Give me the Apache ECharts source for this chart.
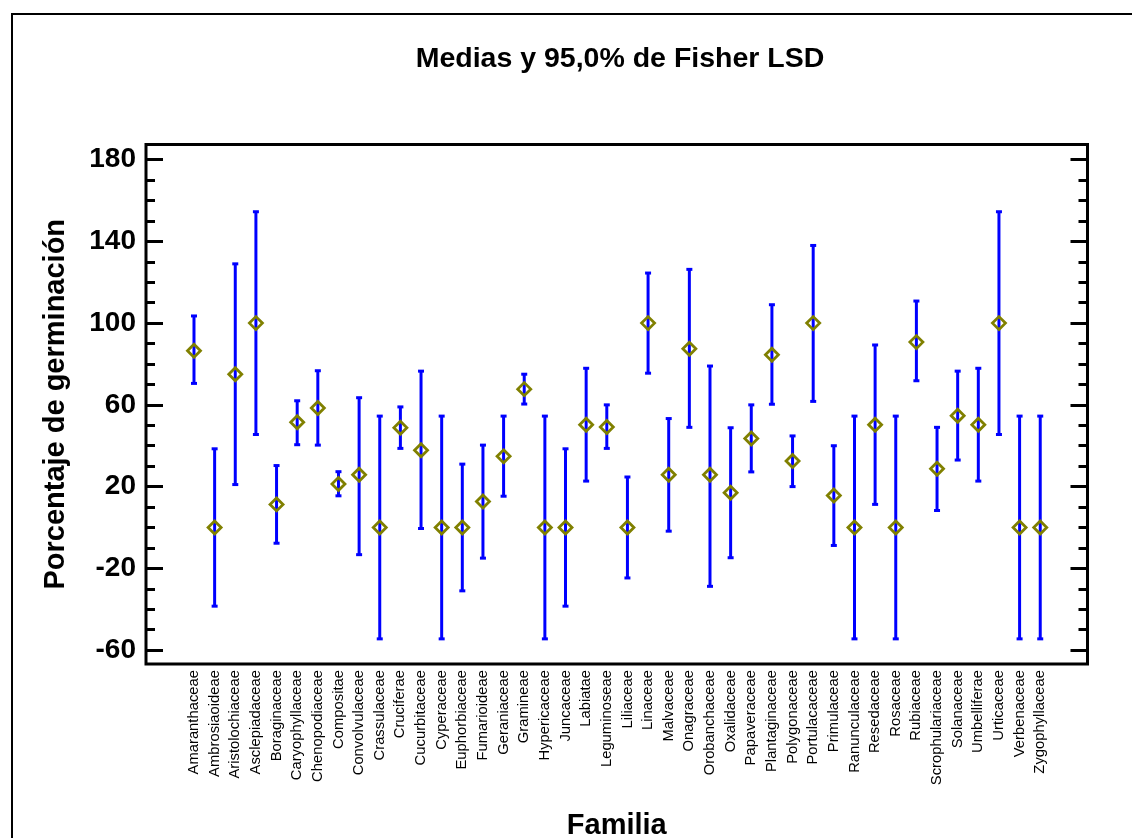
<!DOCTYPE html>
<html>
<head>
<meta charset="utf-8">
<script src="https://cdn.jsdelivr.net/npm/echarts@6/dist/echarts.min.js"></script>
<style>html,body{margin:0;padding:0;background:#fff}#c{width:1132px;height:838px}</style>
</head>
<body>
<div id="c"></div>
<script>
const categories = ['Amaranthaceae','Ambrosiaoideae','Aristolochiaceae','Asclepiadaceae','Boraginaceae','Caryophyllaceae','Chenopodiaceae','Compositae','Convolvulaceae','Crassulaceae','Cruciferae','Cucurbitaceae','Cyperaceae','Euphorbiaceae','Fumarioideae','Geraniaceae','Gramineae','Hypericaceae','Juncaceae','Labiatae','Leguminoseae','Liliaceae','Linaceae','Malvaceae','Onagraceae','Orobanchaceae','Oxalidaceae','Papaveraceae','Plantaginaceae','Polygonaceae','Portulacaceae','Primulaceae','Ranunculaceae','Resedaceae','Rosaceae','Rubiaceae','Scrophulariaceae','Solanaceae','Umbelliferae','Urticaceae','Verbenaceae','Zygophyllaceae'];
const means = [86.5,0,75,100,11.3,51.5,58.5,21.3,25.8,0,48.8,37.8,0,0,12.7,34.8,67.7,0,0,50.3,49.2,0,100,25.8,87.5,25.8,17,43.5,84.5,32.5,100,15.6,0,50.3,0,90.7,28.7,54.7,50.3,100,0,0];
const lower = [70.5,-38.5,21,45.5,-7.7,40.5,40.3,15.5,-13.3,-54.5,38.7,-0.5,-54.5,-31,-15,15.3,60.4,-54.5,-38.5,22.7,38.7,-24.7,75.5,-1.8,49,-28.8,-14.8,27.2,60.3,20,61.7,-8.8,-54.5,11.3,-54.5,71.8,8.3,33,22.7,45.5,-54.5,-54.5];
const upper = [103.5,38.5,129,154.5,30.3,62,76.7,27.3,63.5,54.5,59,76.5,54.5,31,40.3,54.5,75,54.5,38.5,77.9,60,24.7,124.5,53.3,126.3,79,48.8,60,109,44.8,138,40,54.5,89.3,54.5,110.8,49,76.5,77.9,154.5,54.5,54.5];
const majorTicks = [-60,-20,20,60,100,140,180];
const minorTicks = [-60,-50,-40,-30,-20,-10,0,10,20,30,40,50,60,70,80,90,100,110,120,130,140,150,160,170,180].filter(v => majorTicks.indexOf(v) < 0);

const chart = echarts.init(document.getElementById('c'), null, {renderer: 'canvas'});
const FONT = 'Liberation Sans';
const Y_MIN = -66.8, Y_MAX = 187.4;
function yAx(pos, ticks, len, labels) {
  return {
    type: 'value', position: pos, min: Y_MIN, max: Y_MAX, gridIndex: 0,
    axisLine: {show: false, onZero: false}, splitLine: {show: false},
    axisTick: ticks ? {show: true, inside: true, length: len, customValues: ticks, lineStyle: {color: '#000', width: 3}} : {show: false},
    axisLabel: labels ? {show: true, customValues: majorTicks, margin: 10, color: '#000', fontSize: 28, fontWeight: 'bold', fontFamily: FONT} : {show: false},
    name: labels ? 'Porcentaje de germinación' : '',
    nameLocation: 'middle', nameGap: 76, nameRotate: 90,
    nameTextStyle: {color: '#000', fontSize: 29, fontWeight: 'bold', fontFamily: FONT}
  };
}
const idx = categories.map((c, i) => i);
chart.setOption({
  backgroundColor: '#fff',
  animation: false,
  title: {text: 'Medias y 95,0% de Fisher LSD', left: 615, textAlign: 'center', top: 40,
    textStyle: {color: '#000', fontSize: 28.5, fontWeight: 'bold', fontFamily: FONT}},
  graphic: [{type: 'rect', shape: {x: 12, y: 14, width: 1300, height: 1000}, style: {fill: 'none', stroke: '#000', lineWidth: 2}, silent: true}],
  grid: {left: 146, right: 44.5, top: 144.5, bottom: 174, outerBoundsMode: 'none', containLabel: false,
    show: true, borderColor: '#000', borderWidth: 3, backgroundColor: 'transparent'},
  xAxis: {
    type: 'value', min: -2.325, max: 43.29,
    axisLine: {show: false, onZero: false}, axisTick: {show: false}, splitLine: {show: false},
    axisLabel: {show: true, customValues: idx, rotate: 90, margin: 6, color: '#000', fontSize: 14.8, fontFamily: FONT,
      formatter: v => categories[Math.round(v)] || ''},
    name: 'Familia', nameLocation: 'middle', nameGap: 147,
    nameTextStyle: {color: '#000', fontSize: 29, fontWeight: 'bold', fontFamily: FONT}
  },
  yAxis: [
    yAx('left', null, 0, true),
    yAx('left', majorTicks, 17, false),
    yAx('left', minorTicks, 9, false),
    yAx('right', majorTicks, 17, false),
    yAx('right', minorTicks, 9, false)
  ],
  series: [
    {
      type: 'custom', xAxisIndex: 0, yAxisIndex: 0, z: 2,
      data: idx.map(i => [i, lower[i], upper[i]]),
      renderItem: function (params, api) {
        const x = api.value(0);
        const p1 = api.coord([x, api.value(1)]);
        const p2 = api.coord([x, api.value(2)]);
        const st = {stroke: '#0000ff', lineWidth: 3};
        const w = 3;
        return {type: 'group', children: [
          {type: 'line', shape: {x1: p1[0], y1: p1[1], x2: p2[0], y2: p2[1]}, style: st},
          {type: 'line', shape: {x1: p1[0] - w, y1: p1[1], x2: p1[0] + w, y2: p1[1]}, style: st},
          {type: 'line', shape: {x1: p2[0] - w, y1: p2[1], x2: p2[0] + w, y2: p2[1]}, style: st}
        ]};
      }
    },
    {
      type: 'scatter', xAxisIndex: 0, yAxisIndex: 0, z: 3,
      data: idx.map(i => [i, means[i]]),
      symbol: 'diamond', symbolSize: [13, 13],
      itemStyle: {color: 'rgba(0,0,0,0)', borderColor: '#808000', borderWidth: 2.8, opacity: 1}
    }
  ]
});
</script>
</body>
</html>
